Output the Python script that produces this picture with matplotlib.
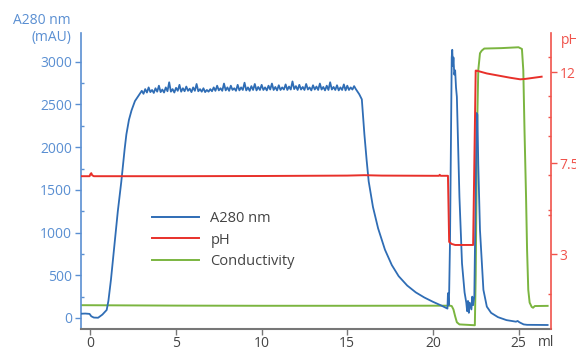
import matplotlib
matplotlib.use("Agg")
import matplotlib.pyplot as plt
from matplotlib.lines import Line2D

plt.rcParams['font.family'] = ['Open Sans', 'DejaVu Sans']

# ---------------- data ----------------
# A280 (mAU) vs volume (ml)
a280_x = [-0.55, -0.3, -0.05, 0.05, 0.2, 0.45, 0.7, 0.95, 1.05, 1.2, 1.4, 1.6, 1.8,
          2.0, 2.1, 2.25, 2.4, 2.6, 2.8]
a280_y = [50, 52, 48, 20, 5, 3, 40, 94, 200, 450, 850, 1250, 1590,
          1980, 2150, 2320, 2430, 2540, 2600]

plateau_x = [round(2.9 + 0.1 * i, 2) for i in range(127)]
plateau_y = [2630, 2660, 2625, 2680, 2640, 2700, 2645, 2670, 2635, 2690, 2650,
             2720, 2645, 2675, 2640, 2700, 2655, 2760, 2650, 2680, 2640, 2695,
             2660, 2730, 2650, 2690, 2655, 2710, 2660, 2685, 2645, 2700, 2660,
             2740, 2655, 2680, 2650, 2690, 2645, 2670, 2650, 2680, 2655, 2700,
             2660, 2720, 2665, 2690, 2660, 2745, 2665, 2700, 2660, 2720, 2670,
             2690, 2660, 2730, 2665, 2700, 2670, 2755, 2665, 2700, 2660, 2715,
             2670, 2740, 2665, 2705, 2670, 2730, 2670, 2700, 2665, 2720, 2675,
             2745, 2670, 2705, 2665, 2725, 2670, 2700, 2675, 2735, 2670, 2710,
             2675, 2770, 2680, 2715, 2670, 2730, 2675, 2705, 2670, 2740, 2675,
             2700, 2665, 2725, 2675, 2710, 2670, 2745, 2675, 2705, 2665, 2720,
             2670, 2760, 2675, 2705, 2670, 2725, 2665, 2700, 2670, 2735, 2665,
             2720, 2670, 2700, 2675, 2715, 2680]

tail_x = [15.7, 15.85, 16.0, 16.13, 16.25, 16.5, 16.8, 17.2, 17.6, 18.0, 18.5,
          19.0, 19.5, 20.0, 20.5, 20.8, 20.85, 20.88, 20.92, 20.95, 21.0, 21.05,
          21.1, 21.13, 21.17, 21.2, 21.25, 21.3, 21.35, 21.4, 21.55, 21.7, 21.85,
          21.95, 22.0, 22.05, 22.1, 22.15, 22.25, 22.3, 22.35, 22.42, 22.5,
          22.55, 22.6, 22.65, 22.75, 22.95, 23.15, 23.4, 23.8, 24.3, 24.85,
          24.95, 25.05, 25.3, 25.5, 26.7]
tail_y = [2620, 2560, 2150, 1850, 1600, 1300, 1050, 800, 620, 490, 380,
          300, 240, 190, 145, 115, 110, 290, 150, 300, 900, 2000,
          3050, 3140, 2950, 3050, 2850, 2900, 2700, 2590, 1420, 640, 300,
          180, 80, 200, 60, 180, 100, 250, 150, 250, 1500,
          2400, 2380, 1800, 1030, 330, 133, 60, 10, -25, -43,
          -35, -50, -75, -80, -82]

# Conductivity (drawn on the A280 scale)
cond_x = [-0.55, 5, 10, 15, 20, 21.0, 21.1, 21.2, 21.3, 21.4, 21.55, 22.0, 22.45,
          22.5, 22.58, 22.65, 22.75, 22.85, 23.0, 24.0, 25.0, 25.2, 25.28, 25.35,
          25.44, 25.5, 25.57, 25.65, 25.77, 25.85, 25.95, 26.7]
cond_y = [150, 145, 143, 143, 144, 144, 140, 100, 20, -50, -75, -80, -85,
          500, 2200, 2900, 3100, 3130, 3155, 3160, 3170, 3150, 2900, 2200,
          1420, 800, 330, 180, 130, 120, 140, 142]

# pH
ph_x = [-0.55, -0.05, 0.0, 0.05, 0.1, 0.2, 5, 10, 15, 16, 17, 20, 20.35, 20.4,
        20.45, 20.88, 20.95, 21.1, 21.3, 22.35, 22.5, 22.55, 23.15, 24.5, 25.1,
        25.4, 26.35]
ph_y = [6.85, 6.85, 6.95, 7.0, 6.9, 6.85, 6.85, 6.86, 6.88, 6.9, 6.88, 6.87,
        6.87, 6.92, 6.87, 6.87, 3.6, 3.5, 3.45, 3.45, 12.07, 12.07, 11.93,
        11.72, 11.64, 11.66, 11.77]

x_ticks = [0, 5, 10, 15, 20, 25]
a280_ticks = [0, 500, 1000, 1500, 2000, 2500, 3000]
ph_ticks = [3, 7.5, 12]
ph_tick_labels = ['3', '7.5', '12']

# ---------------- styling ----------------
BLUE = '#2f6db5'
BLUE_AX = '#5a8fd2'
RED = '#e8302a'
RED_AX = '#f0534c'
GREEN = '#7bb540'
GRAY = '#777777'
TXT = '#444444'

fig = plt.figure(figsize=(5.76, 3.5), dpi=100)
ax = fig.add_axes([81 / 576, (350 - 328.5) / 350, (550.7 - 81) / 576, (328.5 - 33) / 350])
ax2 = ax.twinx()

ax.plot(a280_x + plateau_x + tail_x, a280_y + plateau_y + tail_y,
        color=BLUE, lw=1.3, label='A280 nm', zorder=3)
ax.plot(cond_x, cond_y, color=GREEN, lw=1.4, label='Conductivity', zorder=2)
ax2.plot(ph_x, ph_y, color=RED, lw=1.4, label='pH')

ax.set_xlim(-0.55, 26.88)
ax.set_ylim(-123, 3337)
ax2.set_ylim(-0.68, 13.93)

for s in ['top']:
    ax.spines[s].set_visible(False)
    ax2.spines[s].set_visible(False)
ax2.spines['left'].set_visible(False)
ax2.spines['bottom'].set_visible(False)
ax.spines['right'].set_visible(False)
ax.spines['left'].set_color(BLUE_AX)
ax.spines['left'].set_linewidth(1.2)
ax.spines['bottom'].set_color(GRAY)
ax.spines['bottom'].set_linewidth(1.5)
ax2.spines['right'].set_color(RED_AX)
ax2.spines['right'].set_linewidth(1.2)

ax.set_xticks(x_ticks)
ax.tick_params(axis='x', colors=GRAY, labelcolor=TXT, length=4, width=1,
               pad=1.5, labelsize=10, direction='out')
ax.set_yticks(a280_ticks)
ax.set_yticks([2750, 2250, 1750, 1250, 750, 250], minor=True)
ax.tick_params(axis='y', which='major', colors=BLUE_AX, length=4.5, width=1,
               pad=2, labelsize=10)
ax.tick_params(axis='y', which='minor', colors=BLUE_AX, length=2, width=1,
               direction='in')
ax.tick_params(axis='x', which='minor', bottom=False)

ax2.set_yticks(ph_ticks)
ax2.set_yticklabels(ph_tick_labels)
ax2.set_yticks([12.76, 10.8, 9.76, 8.85, 6.9, 5.2, 4.95, 1.05], minor=True)
ax2.tick_params(axis='y', which='major', colors=RED_AX, length=4.5, width=1,
                pad=2, labelsize=10)
ax2.tick_params(axis='y', which='minor', colors=RED_AX, length=2, width=1,
                direction='in')

fig.text(71 / 576, 1 - 20 / 350, 'A280 nm', ha='right', va='center',
         color=BLUE_AX, fontsize=10)
fig.text(71 / 576, 1 - 37 / 350, '(mAU)', ha='right', va='center',
         color=BLUE_AX, fontsize=10)
fig.text(561 / 576, 1 - 40 / 350, 'pH', ha='left', va='center',
         color=RED_AX, fontsize=10)
fig.text(538 / 576, 1 - 335 / 350, 'ml', ha='left', va='top',
         color=TXT, fontsize=10)

handles = [Line2D([], [], color=BLUE, lw=1.4),
           Line2D([], [], color=RED, lw=1.4),
           Line2D([], [], color=GREEN, lw=1.4)]
labels = ['A280 nm', 'pH', 'Conductivity']
leg = ax2.legend(handles, labels, loc='upper left',
                 bbox_to_anchor=(152 / 576, 1 - 211 / 350),
                 bbox_transform=fig.transFigure, frameon=False,
                 borderpad=0, borderaxespad=0, handlelength=3.2,
                 handletextpad=0.8, labelspacing=0.45, fontsize=10.5)
for t in leg.get_texts():
    t.set_color(TXT)

fig.savefig('out.png', dpi=100)
